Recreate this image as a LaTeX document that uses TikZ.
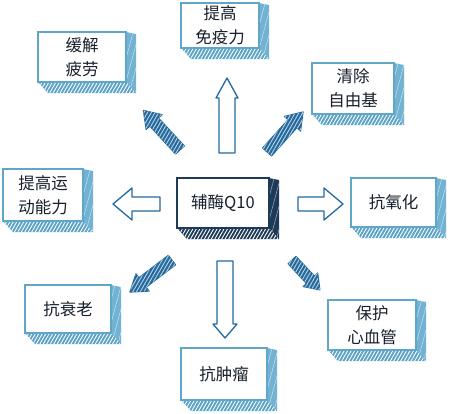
\documentclass[tikz,border=0pt]{standalone}
\usepackage{fontspec}
\newfontfamily\cjk{Noto Sans CJK SC}
\usetikzlibrary{patterns.meta,calc}
\definecolor{boxblue}{HTML}{5FA6C9}
\definecolor{sideblue}{HTML}{72B2D2}
\definecolor{botblue}{HTML}{5AA2C6}
\definecolor{darkbox}{HTML}{1D3A58}
\definecolor{arrowblue}{HTML}{246A9E}
\definecolor{txt}{HTML}{17202C}
\tikzset{
  facebox/.style={fill=white, line width=1.4pt, inner sep=0pt, text=txt, align=center,
     font=\cjk\fontsize{16.5}{24}\selectfont},
  hollowarrow/.style={draw=arrowblue, fill=white, line width=1.3pt, line join=round},
  solidarrow/.style={draw=arrowblue, fill=arrowblue, line width=1pt, line join=round,
     postaction={pattern={Lines[angle=60,distance=3.2pt,line width=0.9pt]}, pattern color=white!70!arrowblue}},
}
% #1 name, #2 x1, #3 y1, #4 x2, #5 y2, #6 frame colour, #7 side colour, #8 bottom colour, #9 text
\newcommand\mkcube[9]{%
  \fill[#7] (#4,#3) -- (#4+10,#3+2) -- (#4+10,#5+11) -- (#4,#5) -- cycle;
  \fill[pattern={Lines[angle=75,distance=6pt,line width=0.5pt]}, pattern color=white!60!#7]
     (#4,#3) -- (#4+10,#3+2) -- (#4+10,#5+11) -- (#4,#5) -- cycle;
  \fill[#8] (#2,#5) -- (#4,#5) -- (#4+10,#5+11) -- (#2+10,#5+11) -- cycle;
  \fill[pattern={Lines[angle=60,distance=3pt,line width=0.9pt]}, pattern color=white]
     (#2,#5) -- (#4,#5) -- (#4+10,#5+11) -- (#2+10,#5+11) -- cycle;
  \node[facebox, draw=#6, minimum width={#4pt-#2pt}, minimum height={#5pt-#3pt}]
     (#1) at ({(#2+#4)/2},{(#3+#5)/2}) {#9};
}
% arrow drawn along +x from tail, then rotated: #1 style, #2 tail, #3 angle, #4 length, #5 half shaft, #6 half head, #7 head length
\newcommand\mkarrow[7]{%
  \begin{scope}[shift={(#2)}, rotate=#3]
    \path[#1] (0,-#5) -- (#4-#7,-#5) -- (#4-#7,-#6) -- (#4,0) -- (#4-#7,#6) -- (#4-#7,#5) -- (0,#5) -- cycle;
  \end{scope}
}
\begin{document}
\begin{tikzpicture}[x=1pt,y=-1pt]
\useasboundingbox (0,0) rectangle (450,413);
\mkcube{fatigue}{38}{32}{126}{82}{boxblue}{sideblue}{botblue}{缓解\\疲劳}
\mkcube{immune}{181}{3}{259}{48}{boxblue}{sideblue}{botblue}{提高\\免疫力}
\mkcube{radical}{312}{63}{394}{114}{boxblue}{sideblue}{botblue}{清除\\自由基}
\mkcube{sport}{3}{169}{83}{221}{boxblue}{sideblue}{botblue}{提高运\\动能力}
\mkcube{center}{177}{178}{269}{228}{darkbox}{darkbox}{darkbox}{辅酶Q10}
\mkcube{antiox}{351}{178}{436}{227}{boxblue}{sideblue}{botblue}{抗氧化}
\mkcube{aging}{25}{285}{111}{333}{boxblue}{sideblue}{botblue}{抗衰老}
\mkcube{cardio}{328}{300}{416}{350}{boxblue}{sideblue}{botblue}{保护\\心血管}
\mkcube{tumor}{181}{348}{267}{400}{boxblue}{sideblue}{botblue}{抗肿瘤}
% arrow tails
\coordinate (tUp) at (227,153);
\coordinate (tLeft) at (160,204);
\coordinate (tRight) at (298,204);
\coordinate (tDown) at (225,261);
\coordinate (tUL) at (180,150);
\coordinate (tUR) at (267,152);
\coordinate (tDL) at (172,260);
\coordinate (tDR) at (292,260);
\mkarrow{hollowarrow}{tUp}{90}{75}{8}{11}{20}
\mkarrow{hollowarrow}{tLeft}{180}{47}{7}{16}{19}
\mkarrow{hollowarrow}{tRight}{0}{45}{7}{16}{19}
\mkarrow{hollowarrow}{tDown}{-90}{77}{8}{12}{14}
\mkarrow{solidarrow}{tUL}{132.8}{54}{6}{11}{16}
\mkarrow{solidarrow}{tUR}{48}{54}{6}{11}{16}
\mkarrow{solidarrow}{tDL}{217.3}{53}{6}{11}{16}
\mkarrow{solidarrow}{tDR}{-47}{41}{5.5}{10}{14}
\end{tikzpicture}
\end{document}
